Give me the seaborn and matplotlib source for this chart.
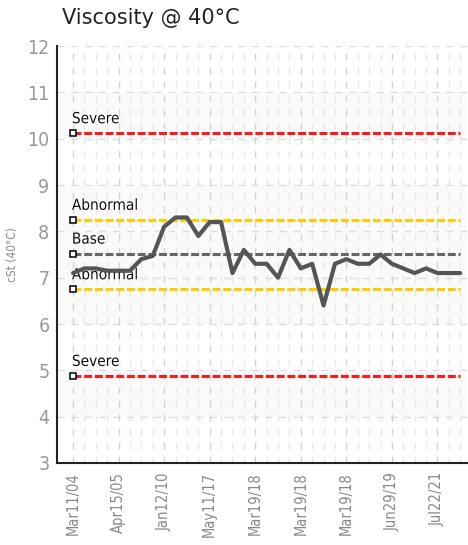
import numpy as np
import pandas as pd
import seaborn as sns
import matplotlib.pyplot as plt
import matplotlib.patheffects as pe

# Viscosity readings, one per sample
viscosity = [7.1, 7.2, 7.2, 7.15, 7.15, 7.15, 7.4, 7.47, 8.1, 8.3, 8.3, 7.9,
             8.2, 8.2, 7.1, 7.6, 7.3, 7.3, 7.0, 7.6, 7.2, 7.3, 6.4, 7.3,
             7.4, 7.3, 7.3, 7.5, 7.3, 7.2, 7.1, 7.2, 7.1, 7.1, 7.1]
tick_labels = ["Mar11/04", "Apr15/05", "Jan12/10", "May11/17", "Mar19/18",
               "Mar19/18", "Mar19/18", "Jun29/19", "Jul22/21"]

# Limits
limit_names = ["Severe", "Abnormal", "Base", "Abnormal", "Severe"]
limit_values = [10.12, 8.25, 7.52, 6.75, 4.88]
limit_colors = ["#ff1a1a", "#ffcc00", "#666666", "#ffcc00", "#ff1a1a"]

df = pd.DataFrame({"sample": np.arange(len(viscosity)), "cst": viscosity})

sns.set_style("white")
plt.rcParams["font.family"] = ["DejaVu Sans"]
plt.rcParams["font.stretch"] = "condensed"

fig = plt.figure(figsize=(4.68, 5.45), dpi=100)
ax = fig.add_axes([0.122, 0.1505, 0.876, 0.765])

n = len(viscosity)
ax.set_xlim(-1.4, n - 1 + 0.6)
ax.set_ylim(3, 12)

# alternating background bands
for lo, hi in [(10, 11), (6, 9), (4, 5)]:
    ax.axhspan(lo, hi, color="#fafafa", zorder=0, lw=0)

# grid
for y in range(4, 13):
    ax.axhline(y, color="#dddddd", lw=1, dashes=(5, 5), zorder=1)
for i in range(n):
    ax.axvline(i, color="#d4d4d4" if i % 4 == 0 else "#e8e8e8",
               lw=1, dashes=(5, 5), zorder=1)

# limit lines
halo = [pe.withStroke(linewidth=1.5, foreground="white")]
for name, val, col in zip(limit_names, limit_values, limit_colors):
    ax.plot([df["sample"].min(), df["sample"].max()], [val, val], color=col,
            lw=2.2, dashes=(2.6, 0.9), zorder=2, solid_capstyle="butt")
    ax.plot([df["sample"].min()], [val], marker="s", ms=4.5, mfc="white",
            mec="black", mew=1.1, zorder=4, clip_on=False)
    ax.text(df["sample"].min() - 0.1, val + 0.15, name, fontsize=11,
            color="#111111", ha="left", va="bottom", zorder=2.5,
            path_effects=halo)

# main series
sns.lineplot(data=df, x="sample", y="cst", color="#555555", lw=3, ax=ax, zorder=3)

ax.set_xticks(np.arange(0, n, 4))
ax.set_xticklabels(tick_labels, rotation=90, fontsize=10.5, color="#888888")
ax.set_yticks(range(3, 13))
ax.set_yticklabels([str(v) for v in range(3, 13)], fontsize=14, color="#999999")
ax.tick_params(axis="both", direction="inout", length=7, width=1.2, color="#222222")
ax.tick_params(axis="y", pad=2)
ax.tick_params(axis="x", pad=3)

for s in ["top", "right"]:
    ax.spines[s].set_visible(False)
for s in ["left", "bottom"]:
    ax.spines[s].set_color("#222222")
    ax.spines[s].set_linewidth(1.5)

ax.set_xlabel("")
ax.set_ylabel("cSt (40°C)", fontsize=8.5, color="#888888", labelpad=6)

fig.text(0.133, 0.967, "Viscosity @ 40°C", fontsize=15, color="#222222",
         ha="left", va="center", family="DejaVu Sans", stretch="normal")

plt.savefig("out.png", dpi=100)
